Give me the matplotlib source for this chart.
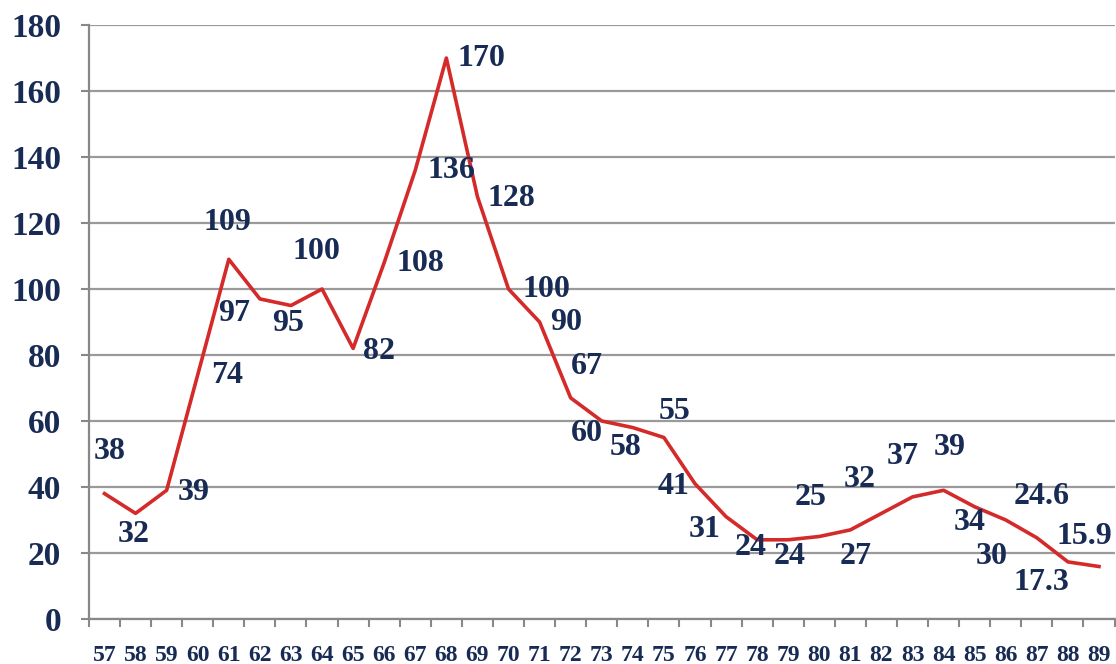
import matplotlib
matplotlib.use("Agg")
import matplotlib.pyplot as plt
import numpy as np

years = ["57", "58", "59", "60", "61", "62", "63", "64", "65", "66", "67",
         "68", "69", "70", "71", "72", "73", "74", "75", "76", "77", "78",
         "79", "80", "81", "82", "83", "84", "85", "86", "87", "88", "89"]
values = [38, 32, 39, 74, 109, 97, 95, 100, 82, 108, 136,
          170, 128, 100, 90, 67, 60, 58, 55, 41, 31, 24,
          24, 25, 27, 32, 37, 39, 34, 30, 24.6, 17.3, 15.9]
y_ticks = [0, 20, 40, 60, 80, 100, 120, 140, 160, 180]

# label offsets from each point, in pixels (dx right, dy up)
label_offsets = [(5, 42), (-2, -21), (27, -2), (29, -1), (-1, 37), (-26, -15),
                 (-3, -18), (-6, 38), (26, -3), (36, -1), (36, 0), (35, 0),
                 (34, -2), (38, 0), (27, 0), (16, 31), (-15, -13), (-7, -20),
                 (11, 26), (-21, -3), (-21, -13), (-7, -8), (1, -17), (-9, 39),
                 (5, -27), (-22, 34), (-10, 40), (6, 43), (-5, -16), (-14, -37),
                 (5, 41), (-26, -21), (-15, 30)]

C_LINE = "#d42a2a"
C_TEXT = "#172b55"
C_GRID = "#9a9a9a"
FONT = "Liberation Serif"

fig = plt.figure(figsize=(11.16, 6.64), dpi=100)
ax = fig.add_axes([0.0797, 0.0678, 0.919, 0.8945])

x = np.arange(len(years))
ax.plot(x, values, color=C_LINE, lw=2.6, zorder=3)

for xi, v, (dx, dy) in zip(x, values, label_offsets):
    ax.annotate(f"{v:g}", xy=(xi, v), xytext=(dx * 0.72, dy * 0.72),
                textcoords="offset points", ha="center", va="center",
                fontsize=23, fontweight="bold", family=FONT, color=C_TEXT,
                zorder=4)

ax.set_xlim(-0.5, len(years) - 0.5)
ax.set_ylim(0, 180)
ax.set_yticks(y_ticks)
ax.set_yticklabels([str(t) for t in y_ticks], fontsize=24, fontweight="bold",
                   family=FONT, color=C_TEXT)
ax.yaxis.grid(True, color=C_GRID, lw=1.6)
ax.set_axisbelow(True)

# category boundaries get the tick marks, centres get the labels
ax.set_xticks(np.arange(-0.5, len(years)), minor=False)
ax.set_xticklabels([])
ax.set_xticks(x, minor=True)
ax.set_xticklabels(years, minor=True, fontsize=17, fontweight="bold",
                   family=FONT, color=C_TEXT)
ax.tick_params(axis="x", which="major", length=6, width=1.5, color="#888")
ax.tick_params(axis="x", which="minor", length=0, pad=18.5)
ax.tick_params(axis="y", length=6, width=1.5, color="#888", pad=14)

for s in ("top", "right"):
    ax.spines[s].set_visible(False)
for s in ("left", "bottom"):
    ax.spines[s].set_color("#888")
    ax.spines[s].set_linewidth(1.6)

fig.savefig("out.png", dpi=100)
